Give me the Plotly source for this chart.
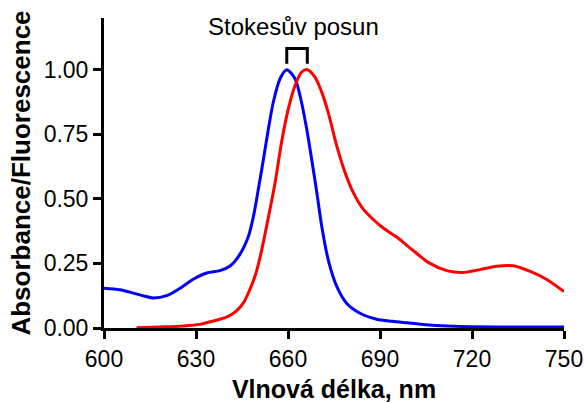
import numpy as np
import plotly.graph_objects as go

# Absorbance (blue)
abs_wl = [600, 605.2, 609.6, 613, 616.1, 620.4, 624.8, 629.1, 633.5, 637.8, 641.1, 644.3,
          647.1, 648.7, 650.3, 652, 653.6, 655.2, 657.4, 659.6, 662.3, 664.4, 666.1, 667.7,
          669.4, 671, 673.1, 675.9, 679.1, 683.5, 688.9, 694, 699, 705, 712, 720, 735, 750]
abs_val = [0.154, 0.148, 0.135, 0.124, 0.116, 0.125, 0.154, 0.189, 0.213, 0.222, 0.24, 0.285,
           0.355, 0.43, 0.535, 0.654, 0.77, 0.874, 0.965, 1.0, 0.965, 0.874, 0.77, 0.654,
           0.524, 0.394, 0.265, 0.161, 0.096, 0.057, 0.034, 0.026, 0.02, 0.013, 0.008, 0.005,
           0.004, 0.004]

# Fluorescence (red)
fl_wl = [610.6, 618, 625.9, 631.3, 634.6, 637.5, 640.5, 643, 645.4, 647.6, 649.5, 651.2,
         653.3, 655.8, 657.9, 660.1, 662.3, 664.4, 666.3, 668.8, 671, 673.1, 675.9, 678.6,
         681.3, 684.6, 687.8, 690.5, 695.4, 700.8, 706, 711.8, 717, 722.6, 728, 733.4,
         739, 744.5, 750]
fl_val = [0.001, 0.004, 0.008, 0.014, 0.024, 0.033, 0.045, 0.064, 0.096, 0.15, 0.21, 0.29,
          0.41, 0.563, 0.719, 0.848, 0.939, 0.99, 1.0, 0.971, 0.913, 0.835, 0.705, 0.602,
          0.524, 0.459, 0.42, 0.392, 0.352, 0.30, 0.252, 0.222, 0.215, 0.226, 0.239, 0.241,
          0.219, 0.187, 0.141]

x_ticks = [600, 630, 660, 690, 720, 750]
y_ticks = [0.0, 0.25, 0.5, 0.75, 1.0]
y_ticktext = ["0.00", "0.25", "0.50", "0.75", "1.00"]

FONT = "Arial, 'Liberation Sans', sans-serif"

fig = go.Figure()
fig.add_trace(go.Scatter(x=abs_wl, y=abs_val, mode="lines",
                         line=dict(color="#0000FF", width=3, shape="spline", smoothing=0.8),
                         showlegend=False, cliponaxis=False))
fig.add_trace(go.Scatter(x=fl_wl, y=fl_val, mode="lines",
                         line=dict(color="#FF0000", width=3, shape="spline", smoothing=0.8),
                         showlegend=False, cliponaxis=False))

# Stokes shift bracket between the two peak maxima
p1 = abs_wl[int(np.argmax(abs_val))]
p2 = fl_wl[int(np.argmax(fl_val))]
b_top, b_bot = 1.082, 1.023
fig.add_shape(type="path", xref="x", yref="y",
              path=f"M {p1} {b_bot} L {p1} {b_top} L {p2} {b_top} L {p2} {b_bot}",
              line=dict(color="black", width=3))
fig.add_annotation(x=(p1 + p2) / 2 - 1.3, y=1.167, xref="x", yref="y", text="Stokesův posun",
                   showarrow=False, font=dict(family=FONT, size=24, color="black"))

fig.update_layout(
    width=584, height=403,
    margin=dict(l=104, r=20, t=18, b=75),
    paper_bgcolor="white", plot_bgcolor="white",
    font=dict(family=FONT, color="black"),
)
fig.update_xaxes(range=[600, 750], tickvals=x_ticks, showgrid=False, zeroline=False,
                 showline=True, linewidth=3, linecolor="black", automargin=False,
                 ticks="outside", ticklen=8, tickwidth=3, tickcolor="black",
                 tickfont=dict(size=23, family=FONT),
                 title=dict(text="<b>Vlnová délka, nm</b>", font=dict(size=25, family=FONT), standoff=13))
fig.update_yaxes(range=[0, 1.2], tickvals=y_ticks, ticktext=y_ticktext, showgrid=False, zeroline=False,
                 showline=True, linewidth=3, linecolor="black", automargin=False,
                 ticks="outside", ticklen=8, tickwidth=3, tickcolor="black",
                 tickfont=dict(size=23, family=FONT),
                 title=dict(text="<b>Absorbance/Fluorescence</b>", font=dict(size=26, family=FONT), standoff=6))

fig.write_html("out.html")
